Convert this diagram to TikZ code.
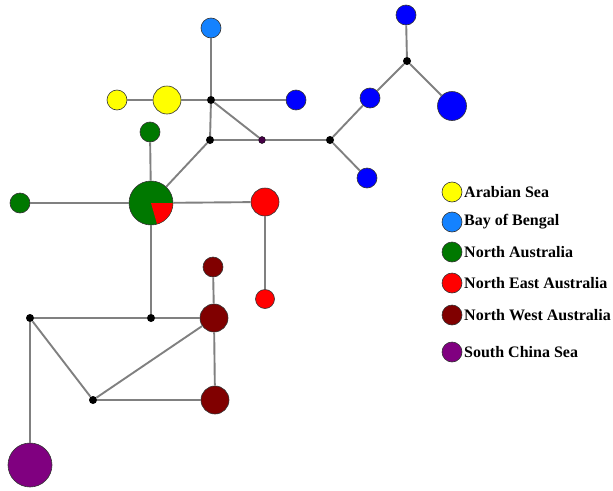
\documentclass[tikz,border=0pt]{standalone}
\usepackage{fontspec}
\setmainfont{Liberation Serif}
\newfontfamily\legfont{Liberation Serif}[BoldFont={Liberation Serif Bold}]
\definecolor{cYel}{RGB}{255,255,0}
\definecolor{cLBlue}{RGB}{20,130,255}
\definecolor{cBlue}{RGB}{0,0,255}
\definecolor{cGreen}{RGB}{0,120,0}
\definecolor{cRed}{RGB}{255,0,0}
\definecolor{cDRed}{RGB}{128,0,0}
\definecolor{cPurp}{RGB}{128,0,128}
\definecolor{cDPurp}{RGB}{70,0,70}
\definecolor{cEdge}{RGB}{128,128,128}
\begin{document}
\begin{tikzpicture}[x=1pt,y=-1pt,
  hap/.style={circle,draw=black!80,line width=0.6pt,inner sep=0pt,minimum size=#1},
  hap/.default=20pt,
  junc/.style={circle,fill=black,inner sep=0pt,minimum size=8pt},
  edge/.style={draw=cEdge,line width=1.9pt},
  legtext/.style={anchor=west,font=\legfont\fontsize{16}{18}\selectfont\bfseries,inner sep=0pt}]
\useasboundingbox (0,0) rectangle (613,490);
% haplotype nodes
\node[hap=20pt,fill=cLBlue] (lb) at (211,28) {};
\node[hap=20pt,fill=cYel] (y1) at (117,100) {};
\node[hap=28pt,fill=cYel] (y2) at (167,100) {};
\node[junc] (j1) at (211,100) {};
\node[hap=20pt,fill=cBlue] (b1) at (296,100) {};
\node[junc] (j2) at (210,140) {};
\node[circle,fill=cDPurp,draw=black,line width=0.4pt,inner sep=0pt,minimum size=7pt] (p0) at (262,140) {};
\node[junc] (j3) at (330,140) {};
\node[hap=20pt,fill=cBlue] (b2) at (370,98) {};
\node[junc] (j4) at (407,61) {};
\node[hap=20pt,fill=cBlue] (b3) at (406,15) {};
\node[hap=29pt,fill=cBlue] (b4) at (452,106) {};
\node[hap=20pt,fill=cBlue] (b5) at (367,178) {};
\node[hap=20pt,fill=cGreen] (g1) at (150,132) {};
\node[hap=44pt,fill=cGreen] (g2) at (151,203) {};
\fill[cRed] (g2.center) -- ++(-74:21.7pt) arc[start angle=-74,end angle=0,radius=21.7pt] -- cycle;
\node[hap=20pt,fill=cGreen] (g3) at (20,203) {};
\node[hap=28pt,fill=cRed] (r1) at (265,202) {};
\node[hap=19pt,fill=cRed] (r2) at (265,299) {};
\node[hap=20pt,fill=cDRed] (d1) at (213,267) {};
\node[junc] (j5) at (30,318) {};
\node[junc] (j6) at (151,318) {};
\node[hap=28pt,fill=cDRed] (d2) at (214,318) {};
\node[junc] (j7) at (93,400) {};
\node[hap=28pt,fill=cDRed] (d3) at (215,400) {};
\node[hap=44pt,fill=cPurp] (sp) at (30,465) {};
% connectors
\draw[edge] (lb) -- (j1);
\draw[edge] (y1) -- (y2);
\draw[edge] (y2) -- (j1);
\draw[edge] (j1) -- (b1);
\draw[edge] (j1) -- (j2);
\draw[edge] (j1) -- (p0);
\draw[edge] (j2) -- (p0);
\draw[edge] (p0) -- (j3);
\draw[edge] (j3) -- (b2);
\draw[edge] (b2) -- (j4);
\draw[edge] (j4) -- (b3);
\draw[edge] (j4) -- (b4);
\draw[edge] (j3) -- (b5);
\draw[edge] (j2) -- (g2);
\draw[edge] (g1) -- (g2);
\draw[edge] (g3) -- (g2);
\draw[edge] (g2) -- (r1);
\draw[edge] (r1) -- (r2);
\draw[edge] (g2) -- (j6);
\draw[edge] (j5) -- (j6);
\draw[edge] (j6) -- (d2);
\draw[edge] (d1) -- (d2);
\draw[edge] (d2) -- (d3);
\draw[edge] (j5) -- (j7);
\draw[edge] (j7) -- (d2);
\draw[edge] (j7) -- (d3);
\draw[edge] (j5) -- (sp);
% legend
\node[hap=20pt,fill=cYel] (l1) at (452,192) {};
\node[legtext] (t1) at (464,192) {Arabian Sea};
\node[hap=20pt,fill=cLBlue] (l2) at (452,222) {};
\node[legtext] (t2) at (464,222) {Bay of Bengal};
\node[hap=20pt,fill=cGreen] (l3) at (452,252) {};
\node[legtext] (t3) at (464,252) {North Australia};
\node[hap=20pt,fill=cRed] (l4) at (452,283) {};
\node[legtext] (t4) at (464,283) {North East Australia};
\node[hap=20pt,fill=cDRed] (l5) at (452,315) {};
\node[legtext] (t5) at (464,315) {North West Australia};
\node[hap=20pt,fill=cPurp] (l6) at (452,352) {};
\node[legtext] (t6) at (464,352) {South China Sea};
\end{tikzpicture}
\end{document}
